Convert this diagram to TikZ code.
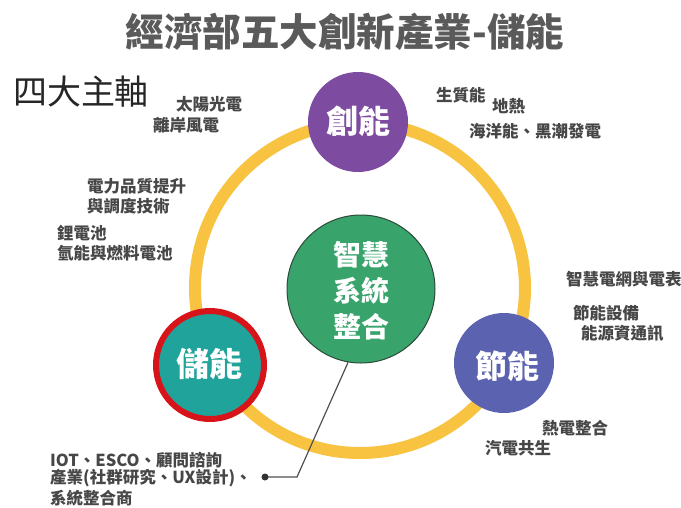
\documentclass[tikz,border=0pt]{standalone}
\usepackage{fontspec}
\newfontfamily\cjk{Noto Sans CJK TC}
\definecolor{titlec}{HTML}{5A5A5A}
\definecolor{labc}{HTML}{474747}
\definecolor{ringc}{HTML}{F7C340}
\definecolor{purp}{HTML}{7D4BA0}
\definecolor{grn}{HTML}{38A46C}
\definecolor{grnb}{HTML}{2D4A3A}
\definecolor{teal}{HTML}{1FA39A}
\definecolor{redb}{HTML}{D7141A}
\definecolor{blu}{HTML}{5B62B0}
\definecolor{linec}{HTML}{505050}
\tikzset{
  lab/.style={inner sep=0pt, anchor=west, text=labc, font=\cjk\bfseries\fontsize{16.5}{18}\selectfont},
  bigc/.style={circle, inner sep=0pt},
  ctext/.style={inner sep=0pt, text=white, font=\cjk\bfseries\fontsize{32}{34}\selectfont}
}
\begin{document}
\begin{tikzpicture}[x=1pt,y=-1pt]
\path[fill=white, use as bounding box] (0,0) rectangle (681,507);
% title
\node[inner sep=0pt, text=titlec, font=\cjk\bfseries\fontsize{38.5}{40}\selectfont] (title) at (345,32) {經濟部五大創新產業-儲能};
\node[inner sep=0pt, text=black!85, font=\cjk\fontsize{34}{36}\selectfont] (axes) at (81,92) {四大主軸};
% ring
\coordinate (rc) at (360,288);
\draw[ringc, line width=12pt] (rc) circle[radius=165pt];
% circles
\node[bigc, fill=purp, minimum size=100pt] (chuang) at (358,122) {};
\node[bigc, fill=grn, draw=grnb, line width=1pt, minimum size=148pt] (zhi) at (361,289) {};
\node[bigc, fill=teal, draw=redb, line width=6pt, minimum size=108pt] (chu) at (210,365) {};
\node[bigc, fill=blu, minimum size=100pt] (jie) at (504,363) {};
% circle texts
\node[ctext] (chuangt) at (358,121) {創能};
\node[ctext, font=\cjk\bfseries\fontsize{33}{34}\selectfont] (chut) at (209,364) {儲能};
\node[ctext] (jiet) at (507,366) {節能};
\node[ctext, align=center, font=\cjk\bfseries\fontsize{28}{36}\selectfont] (zhit) at (361,291) {智慧\\系統\\整合};
% labels
\node[lab] (l1) at (176,104) {太陽光電};
\node[lab] (l2) at (153,125) {離岸風電};
\node[lab] (l3) at (87,186) {電力品質提升};
\node[lab] (l4) at (87,206) {與調度技術};
\node[lab] (l5) at (57,233) {鋰電池};
\node[lab] (l6) at (57,253) {氫能與燃料電池};
\node[lab] (r1) at (436,95) {生質能};
\node[lab] (r2) at (492,106) {地熱};
\node[lab] (r3) at (469,131) {海洋能、黑潮發電};
\node[lab] (r4) at (566,279) {智慧電網與電表};
\node[lab] (r5) at (573,313) {節能設備};
\node[lab] (r6) at (581,333) {能源資通訊};
\node[lab] (r7) at (542,428) {熱電整合};
\node[lab] (r8) at (485,448) {汽電共生};
\node[lab] (b1) at (50,460) {IOT、ESCO、顧問諮詢};
\node[lab] (b2) at (50,478) {產業(社群研究、UX設計)、};
\node[lab] (b3) at (50,498) {系統整合商};
% connector
\coordinate (dot) at (265,477);
\coordinate (bend) at (297,477);
\draw[linec, line width=1.2pt] (zhi.260) -- (bend) -- (dot);
\fill[black!80] (dot) circle[radius=3.5pt];
\end{tikzpicture}
\end{document}
